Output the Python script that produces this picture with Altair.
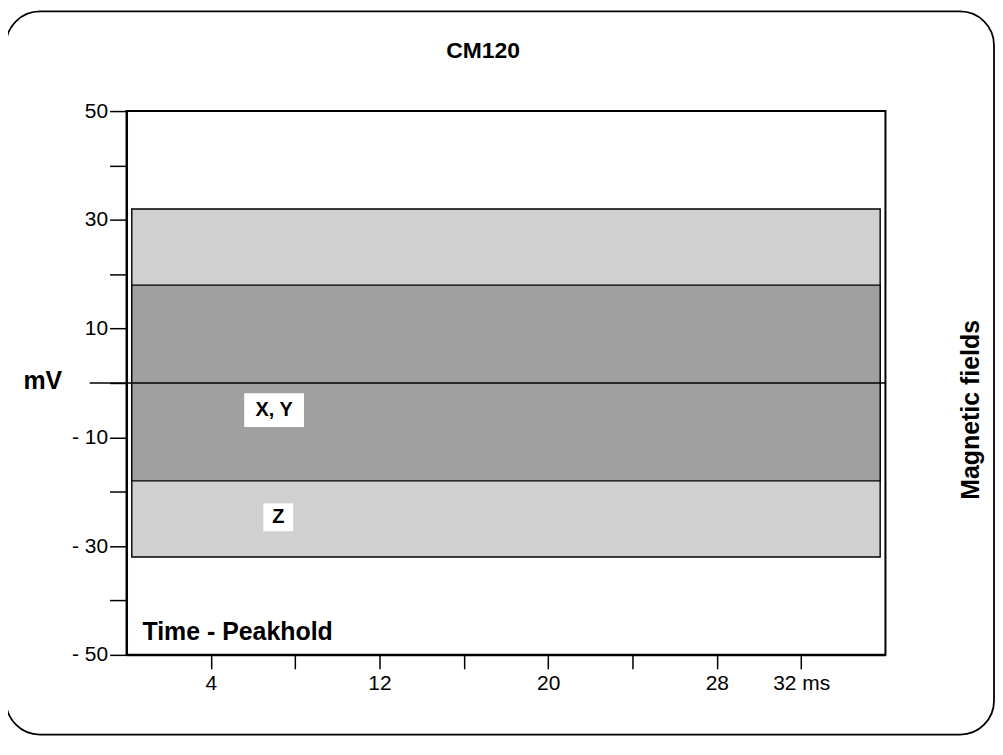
import altair as alt
import pandas as pd

# ---- data ----
band_names = ["Z", "X, Y"]
band_low = [-32, -18]
band_high = [32, 18]
band_t0 = [0.25, 0.25]
band_t1 = [35.75, 35.75]

x_ticks = [4, 8, 12, 16, 20, 24, 28, 32]
y_ticks = [-50, -40, -30, -20, -10, 0, 10, 20, 30, 40, 50]

anno_text = ["X, Y", "Z"]
anno_t = [7.0, 7.2]
anno_mv = [-5.0, -24.7]

W, H = 762, 546
FONT = "Liberation Sans"

bands_df = pd.DataFrame({"band": band_names, "low": band_low, "high": band_high,
                         "t0": band_t0, "t1": band_t1})
anno_df = pd.DataFrame({"label": anno_text, "t": anno_t, "mv": anno_mv})
one = pd.DataFrame({"k": [0]})

xscale = alt.Scale(domain=[0, 36], nice=False, zero=False)
yscale = alt.Scale(domain=[-50, 50], nice=False, zero=False)

x_axis = alt.Axis(
    values=x_ticks,
    labelExpr="datum.value == 32 ? '32 ms' : ((datum.value / 4) % 2 == 1 ? '' + datum.value : '')",
    tickSize=14, tickWidth=1.5, tickColor="black",
    domainColor="black", domainWidth=2,
    labelFontSize=21, labelFont=FONT, labelColor="black", labelPadding=4,
    labelFlush=False, labelOverlap=False, grid=False, title=None,
)
y_axis = alt.Axis(
    values=y_ticks,
    labelExpr="(datum.value / 10) % 2 != 0 ? (datum.value < 0 ? '- ' + (-datum.value) : '' + datum.value) : ''",
    tickSize=17, tickWidth=1.5, tickColor="black",
    domainColor="black", domainWidth=2,
    labelFontSize=21, labelFont=FONT, labelColor="black", labelPadding=2,
    labelFlush=False, labelOverlap=False, grid=False, title=None,
)

# rounded outer frame (decoration)
frame = alt.Chart(one).mark_rect(
    cornerRadius=34, fillOpacity=0, stroke="black", strokeWidth=1.8, clip=False
).encode(x=alt.value(-121), x2=alt.value(871), y=alt.value(-100), y2=alt.value(626))

bands = alt.Chart(bands_df).mark_rect(stroke="black", strokeWidth=1.4).encode(
    x=alt.X("t0:Q", scale=xscale, axis=x_axis),
    x2="t1:Q",
    y=alt.Y("low:Q", scale=yscale, axis=y_axis),
    y2="high:Q",
    color=alt.Color("band:N", scale=alt.Scale(domain=band_names, range=["#d0d0d0", "#a0a0a0"]),
                    legend=None),
    order=alt.Order("high:Q", sort="descending"),
)

zero = alt.Chart(one).mark_rule(color="black", strokeWidth=1.5, clip=False).encode(
    y=alt.Y(datum=0, type="quantitative", scale=yscale, axis=y_axis), x=alt.value(-37), x2=alt.value(W)
)

box_xy = alt.Chart(anno_df).transform_filter("datum.label == 'X, Y'").mark_rect(
    color="white", width=60, height=34
).encode(x=alt.X("t:Q", scale=xscale, axis=x_axis), y=alt.Y("mv:Q", scale=yscale, axis=y_axis))
box_z = alt.Chart(anno_df).transform_filter("datum.label == 'Z'").mark_rect(
    color="white", width=30, height=28
).encode(x=alt.X("t:Q", scale=xscale, axis=x_axis), y=alt.Y("mv:Q", scale=yscale, axis=y_axis))

labels = alt.Chart(anno_df).mark_text(
    font=FONT, fontWeight="bold", fontSize=20, color="black", baseline="middle", align="center"
).encode(x=alt.X("t:Q", scale=xscale, axis=x_axis), y=alt.Y("mv:Q", scale=yscale, axis=y_axis),
         text="label:N")

def deco(txt, x, y, size, angle=0, align="center"):
    return alt.Chart(one).mark_text(
        font=FONT, fontWeight="bold", fontSize=size, color="black",
        baseline="middle", align=align, angle=angle
    ).encode(x=alt.value(x), y=alt.value(y), text=alt.value(txt))

title = deco("CM120", 358, -60, 23)
mv = deco("mV", -84, 271, 25)
mag = deco("Magnetic fields", 848, 300, 25, angle=270)
peak = deco("Time - Peakhold", 16, 523, 25, align="left")

chart = alt.layer(frame, bands, zero, box_xy, box_z, labels, title, mv, mag, peak).properties(
    width=W, height=H,
    padding={"left": 119, "top": 102, "right": 110, "bottom": 85},
    autosize=alt.AutoSizeParams(type="none"),
    background="white",
).configure_view(stroke="black", strokeWidth=2)

chart.save("out.html", embed_options={"renderer": "svg", "actions": False})
